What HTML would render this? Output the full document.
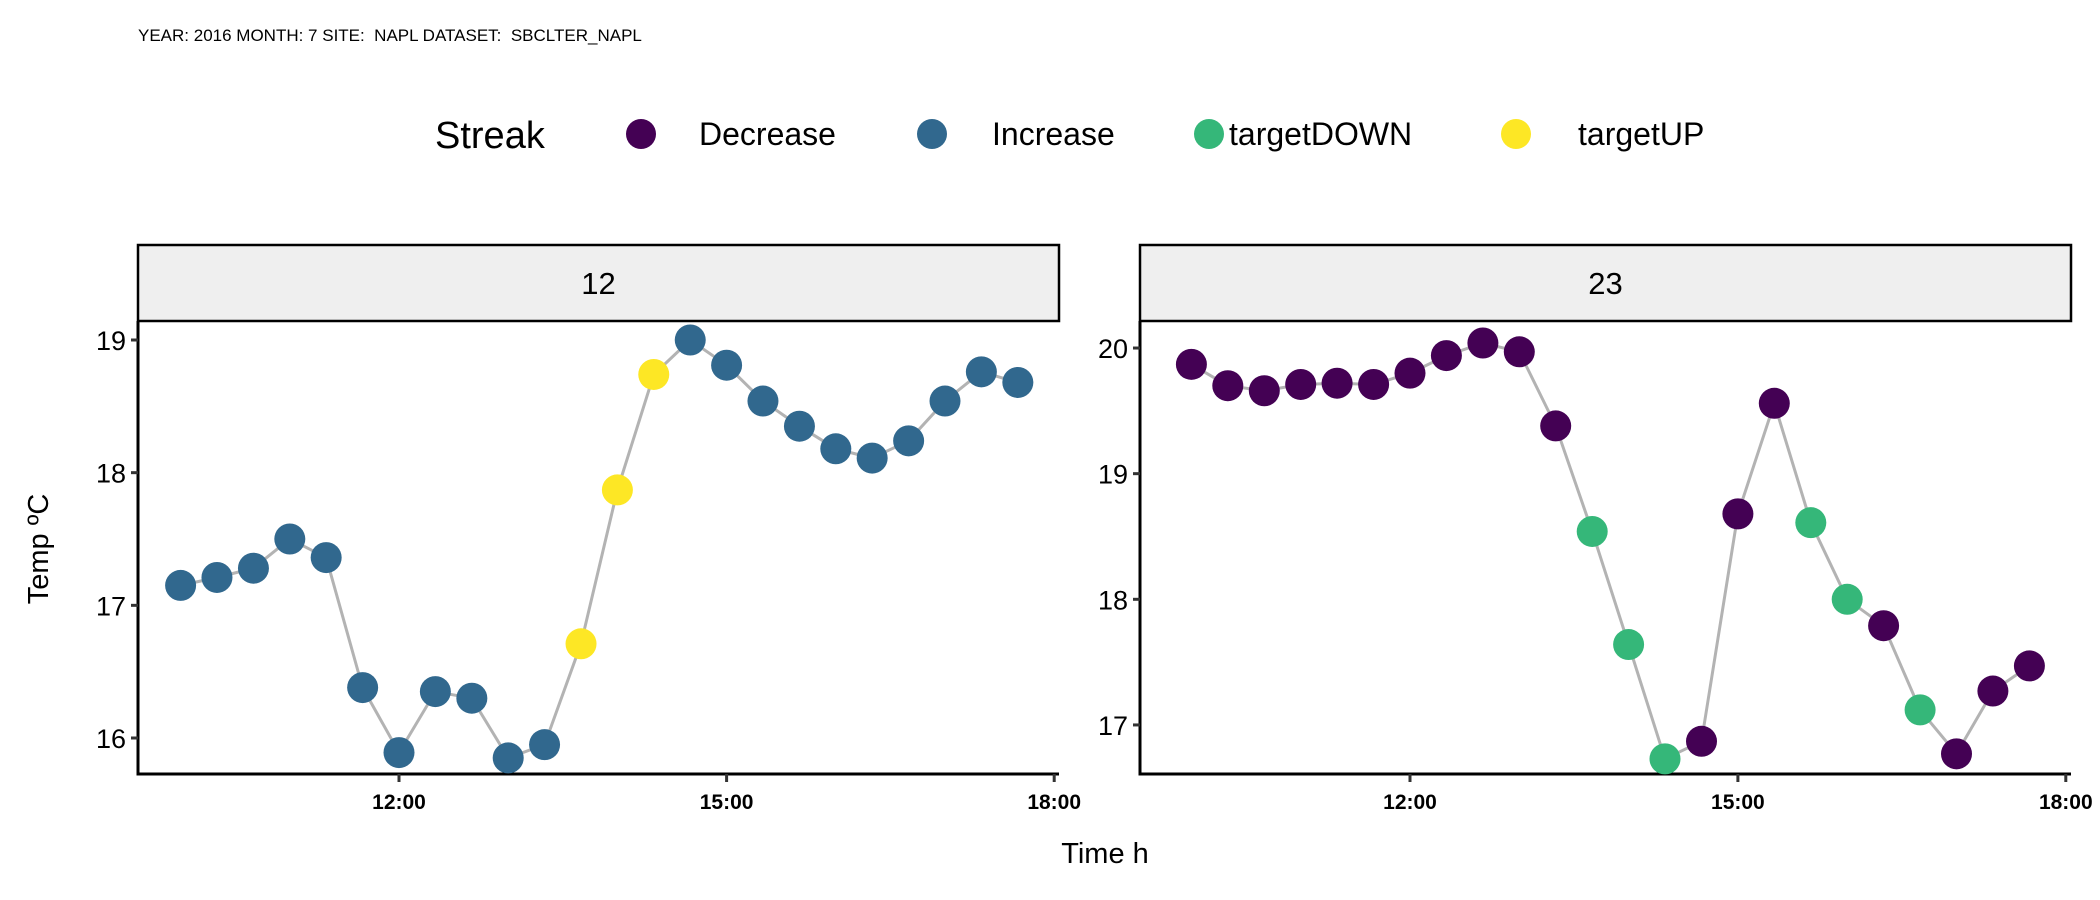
<!DOCTYPE html>
<html><head><meta charset="utf-8"><style>
html,body{margin:0;padding:0;background:#fff}
svg{display:block;font-family:"Liberation Sans",Arial,sans-serif}
text{white-space:pre}
</style></head><body>
<svg id="chart" width="2100" height="900" viewBox="0 0 2100 900">
<text x="138" y="41" font-size="17" xml:space="preserve">YEAR: 2016 MONTH: 7 SITE:  NAPL DATASET:  SBCLTER_NAPL</text>
<g>
<text x="435" y="148" font-size="38">Streak</text>
<circle cx="641" cy="134" r="15" fill="#440154"/>
<text x="699" y="145" font-size="32">Decrease</text>
<circle cx="932" cy="134" r="15" fill="#31688e"/>
<text x="992" y="145" font-size="32">Increase</text>
<circle cx="1209" cy="134" r="15" fill="#35b779"/>
<text x="1229" y="145" font-size="32">targetDOWN</text>
<circle cx="1516" cy="134" r="15" fill="#fde725"/>
<text x="1578" y="145" font-size="32">targetUP</text>
</g>
<text transform="translate(48,549) rotate(-90)" text-anchor="middle" font-size="29">Temp ºC</text>
<text x="1105" y="863" text-anchor="middle" font-size="29">Time h</text>
</svg>
<script>
const xTickLabels = ["12:00","15:00","18:00"];
const xTickHours = [12,15,18];
const p1Label = "12";
const p1Hours = [10,10.333,10.667,11,11.333,11.667,12,12.333,12.667,13,13.333,13.667,14,14.333,14.667,15,15.333,15.667,16,16.333,16.667,17,17.333,17.667];
const p1Temp = [17.15,17.21,17.28,17.50,17.36,16.38,15.89,16.35,16.30,15.85,15.95,16.71,17.87,18.74,19.00,18.81,18.54,18.35,18.18,18.11,18.24,18.54,18.76,18.68];
const p1Streak = ["Increase","Increase","Increase","Increase","Increase","Increase","Increase","Increase","Increase","Increase","Increase","targetUP","targetUP","targetUP","Increase","Increase","Increase","Increase","Increase","Increase","Increase","Increase","Increase","Increase"];
const p1YTicks = [16,17,18,19];
const p2Label = "23";
const p2Hours = [10,10.333,10.667,11,11.333,11.667,12,12.333,12.667,13,13.333,13.667,14,14.333,14.667,15,15.333,15.667,16,16.333,16.667,17,17.333,17.667];
const p2Temp = [19.87,19.70,19.66,19.71,19.72,19.71,19.80,19.94,20.04,19.97,19.38,18.54,17.64,16.73,16.87,18.68,19.56,18.61,18.00,17.79,17.12,16.77,17.27,17.47];
const p2Streak = ["Decrease","Decrease","Decrease","Decrease","Decrease","Decrease","Decrease","Decrease","Decrease","Decrease","Decrease","targetDOWN","targetDOWN","targetDOWN","Decrease","Decrease","Decrease","targetDOWN","targetDOWN","Decrease","targetDOWN","Decrease","Decrease","Decrease"];
const p2YTicks = [17,18,19,20];

const colors = {Decrease:"#440154",Increase:"#31688e",targetDOWN:"#35b779",targetUP:"#fde725"};
const NS = "http://www.w3.org/2000/svg";
const svg = document.getElementById('chart');
function mk(tag, attrs, parent){const e=document.createElementNS(NS,tag);for(const k in attrs)e.setAttribute(k,attrs[k]);(parent||svg).appendChild(e);return e;}

function panel(name, label, hours, temps, streaks, yTicks, box){
  const g = mk('g',{});
  
  
  const xs = h => box.x0 + (h - box.h0) / (box.h1 - box.h0) * (box.x1 - box.x0);
  const ys = v => box.yb - (v - box.v0) / (box.v1 - box.v0) * (box.yb - box.yt);
  const strip = mk('rect',{x:box.x0,y:245,width:box.x1-box.x0,height:76,fill:"#efefef",stroke:"#000","stroke-width":2.5},g);
  
  
  const st = mk('text',{x:(box.x0+box.x1)/2,y:294,"text-anchor":"middle","font-size":31},g);
  st.textContent = label;
  
  
  const ax = mk('path',{d:`M${box.x0},321 V${box.yb} H${box.x1}`,fill:"none",stroke:"#000","stroke-width":3},g);
  
  
  yTicks.forEach(v=>{
    const y = ys(v);
    const t = mk('line',{x1:box.x0-7,x2:box.x0,y1:y,y2:y,stroke:"#333","stroke-width":3},g);
    
    
    const tl = mk('text',{x:box.x0-12,y:y+10,"text-anchor":"end","font-size":27},g);
    tl.textContent = v;
    
    
  });
  xTickHours.forEach((h,i)=>{
    const x = xs(h);
    const t = mk('line',{x1:x,x2:x,y1:box.yb,y2:box.yb+8,stroke:"#333","stroke-width":3},g);
    
    
    const tl = mk('text',{x:x,y:box.yb+35,"text-anchor":"middle","font-size":21,"font-weight":"bold"},g);
    tl.textContent = xTickLabels[i];
    
    
  });
  const pts = hours.map((h,i)=>xs(h).toFixed(1)+','+ys(temps[i]).toFixed(1)).join(' ');
  const line = mk('polyline',{points:pts,fill:"none",stroke:"#b3b3b3","stroke-width":3},g);
  
  
  hours.forEach((h,i)=>{
    const c = mk('circle',{cx:xs(h),cy:ys(temps[i]),r:15.5,fill:colors[streaks[i]]},g);
    
    
  });
  g.appendChild(line);
  g.querySelectorAll('circle').forEach(c=>g.appendChild(c));
}
panel('12', p1Label, p1Hours, p1Temp, p1Streak, p1YTicks,
  {x0:138,x1:1059,h0:12-(399-138)/109.2,h1:12+(1059-399)/109.2,yt:321,yb:774,v0:16-(774-738)/132.7,v1:19+(340-321)/132.7});
panel('23', p2Label, p2Hours, p2Temp, p2Streak, p2YTicks,
  {x0:1140,x1:2071,h0:12-(1410-1140)/109.3,h1:12+(2071-1410)/109.3,yt:321,yb:774,v0:17-(774-725)/125.5,v1:20+(348-321)/125.5});
</script>
</body></html>
